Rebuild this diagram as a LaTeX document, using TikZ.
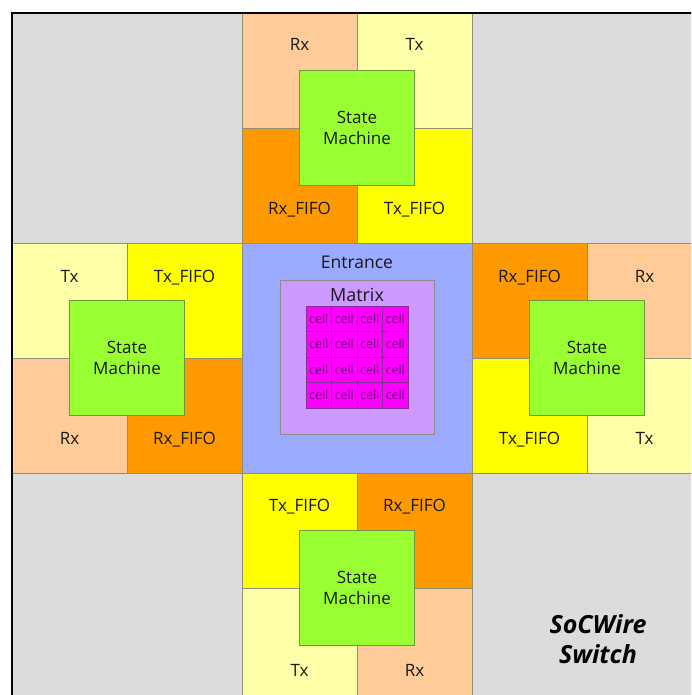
\documentclass[tikz,border=0pt]{standalone}
\usepackage{fontspec}
\setmainfont{Open Sans}
\usetikzlibrary{positioning}

\definecolor{cornergray}{HTML}{DCDCDC}
\definecolor{rxpeach}{HTML}{FFCC99}
\definecolor{txpale}{HTML}{FFFFA8}
\definecolor{txfifoyel}{HTML}{FFFF00}
\definecolor{rxfifoorg}{HTML}{FF9900}
\definecolor{smgreen}{HTML}{99FF33}
\definecolor{smedge}{HTML}{6E9940}
\definecolor{entblue}{HTML}{99AAFF}
\definecolor{matlilac}{HTML}{CC99FF}
\definecolor{cellpink}{HTML}{FF00FF}
\definecolor{celltext}{HTML}{660077}
\definecolor{edgegray}{HTML}{8F8F78}

\begin{document}
\begin{tikzpicture}[
    x=1pt, y=-1pt,
    corner/.style={draw=edgegray, fill=cornergray, line width=0.8pt, inner sep=0pt, minimum size=230pt},
    quad/.style={draw=edgegray, line width=0.8pt, inner sep=0pt, minimum size=115pt},
    rxq/.style={quad, fill=rxpeach},
    txq/.style={quad, fill=txpale},
    rxfq/.style={quad, fill=rxfifoorg},
    txfq/.style={quad, fill=txfifoyel},
    sm/.style={draw=smedge, fill=smgreen, line width=0.8pt, inner sep=0pt, minimum size=115pt,
        align=center, text=black!90, font=\fontsize{17}{21}\selectfont},
    portlbl/.style={anchor=base, inner sep=0pt, text=black!90, font=\fontsize{17}{19}\selectfont},
    ent/.style={draw=edgegray, fill=entblue, line width=0.8pt, inner sep=0pt, minimum size=230pt},
    mat/.style={draw=black!45, fill=matlilac, line width=0.8pt, inner sep=0pt, minimum size=154pt},
    cellbox/.style={draw=celltext!80, fill=cellpink, line width=0.6pt, inner sep=0pt, minimum size=25.5pt,
        text=celltext, font=\fontsize{12.5}{14}\selectfont},
    title/.style={align=center, inner sep=0pt, font=\fontsize{25}{30}\selectfont\bfseries\itshape}
]
\clip (0,0) rectangle (691,695);
\fill[white] (0,0) rectangle (691,695);

% Corners
\node[corner] (cNW) at (127,128) {};
\node[corner] (cNE) at (587,128) {};
\node[corner] (cSW) at (127,588) {};
\node[corner] (cSE) at (587,588) {};

% North port
\node[rxq]  (nRx)  at (299.5,70.5) {};
\node[txq]  (nTx)  at (414.5,70.5) {};
\node[rxfq] (nRxF) at (299.5,185.5) {};
\node[txfq] (nTxF) at (414.5,185.5) {};
\node[sm]   (nSM)  at (357,128) {State\\Machine};
\node[portlbl] (nRxL)  at (299.5,51) {Rx};
\node[portlbl] (nTxL)  at (414.5,51) {Tx};
\node[portlbl] (nRxFL) at (299.5,214.5) {Rx\_FIFO};
\node[portlbl] (nTxFL) at (414.5,214.5) {Tx\_FIFO};

% West port
\node[txq]  (wTx)  at (69.5,300.5) {};
\node[txfq] (wTxF) at (184.5,300.5) {};
\node[rxq]  (wRx)  at (69.5,415.5) {};
\node[rxfq] (wRxF) at (184.5,415.5) {};
\node[sm]   (wSM)  at (127,358) {State\\Machine};
\node[portlbl] (wTxL)  at (69.5,282) {Tx};
\node[portlbl] (wTxFL) at (184.5,282) {Tx\_FIFO};
\node[portlbl] (wRxL)  at (69.5,444.5) {Rx};
\node[portlbl] (wRxFL) at (184.5,444.5) {Rx\_FIFO};

% East port
\node[rxfq] (eRxF) at (529.5,300.5) {};
\node[rxq]  (eRx)  at (644.5,300.5) {};
\node[txfq] (eTxF) at (529.5,415.5) {};
\node[txq]  (eTx)  at (644.5,415.5) {};
\node[sm]   (eSM)  at (587,358) {State\\Machine};
\node[portlbl] (eRxFL) at (529.5,282) {Rx\_FIFO};
\node[portlbl] (eRxL)  at (644.5,282) {Rx};
\node[portlbl] (eTxFL) at (529.5,444.5) {Tx\_FIFO};
\node[portlbl] (eTxL)  at (644.5,444.5) {Tx};

% South port
\node[txfq] (sTxF) at (299.5,530.5) {};
\node[rxfq] (sRxF) at (414.5,530.5) {};
\node[txq]  (sTx)  at (299.5,645.5) {};
\node[rxq]  (sRx)  at (414.5,645.5) {};
\node[sm]   (sSM)  at (357,588) {State\\Machine};
\node[portlbl] (sTxFL) at (299.5,511) {Tx\_FIFO};
\node[portlbl] (sRxFL) at (414.5,511) {Rx\_FIFO};
\node[portlbl] (sTxL)  at (299.5,676) {Tx};
\node[portlbl] (sRxL)  at (414.5,676) {Rx};

% Centre
\node[ent] (ent) at (357,358) {};
\node[portlbl, font=\fontsize{17.5}{19}\selectfont] (entL) at (357,268.5) {Entrance};
\node[mat] (mat) at (357,357.5) {};
\node[portlbl, font=\fontsize{18}{20}\selectfont] (matL) at (357,301) {Matrix};
\foreach \i in {0,...,3}
  \foreach \j in {0,...,3}
    \node[cellbox] (cell-\i-\j) at (318.75+25.5*\i, 318.75+25.5*\j) {cell};

% Title
\node[title] (swL) at (598,639) {SoCWire\\Switch};

% Frame
\draw[line width=2pt] (12,704) -- (12,13) -- (702,13);
\end{tikzpicture}
\end{document}
